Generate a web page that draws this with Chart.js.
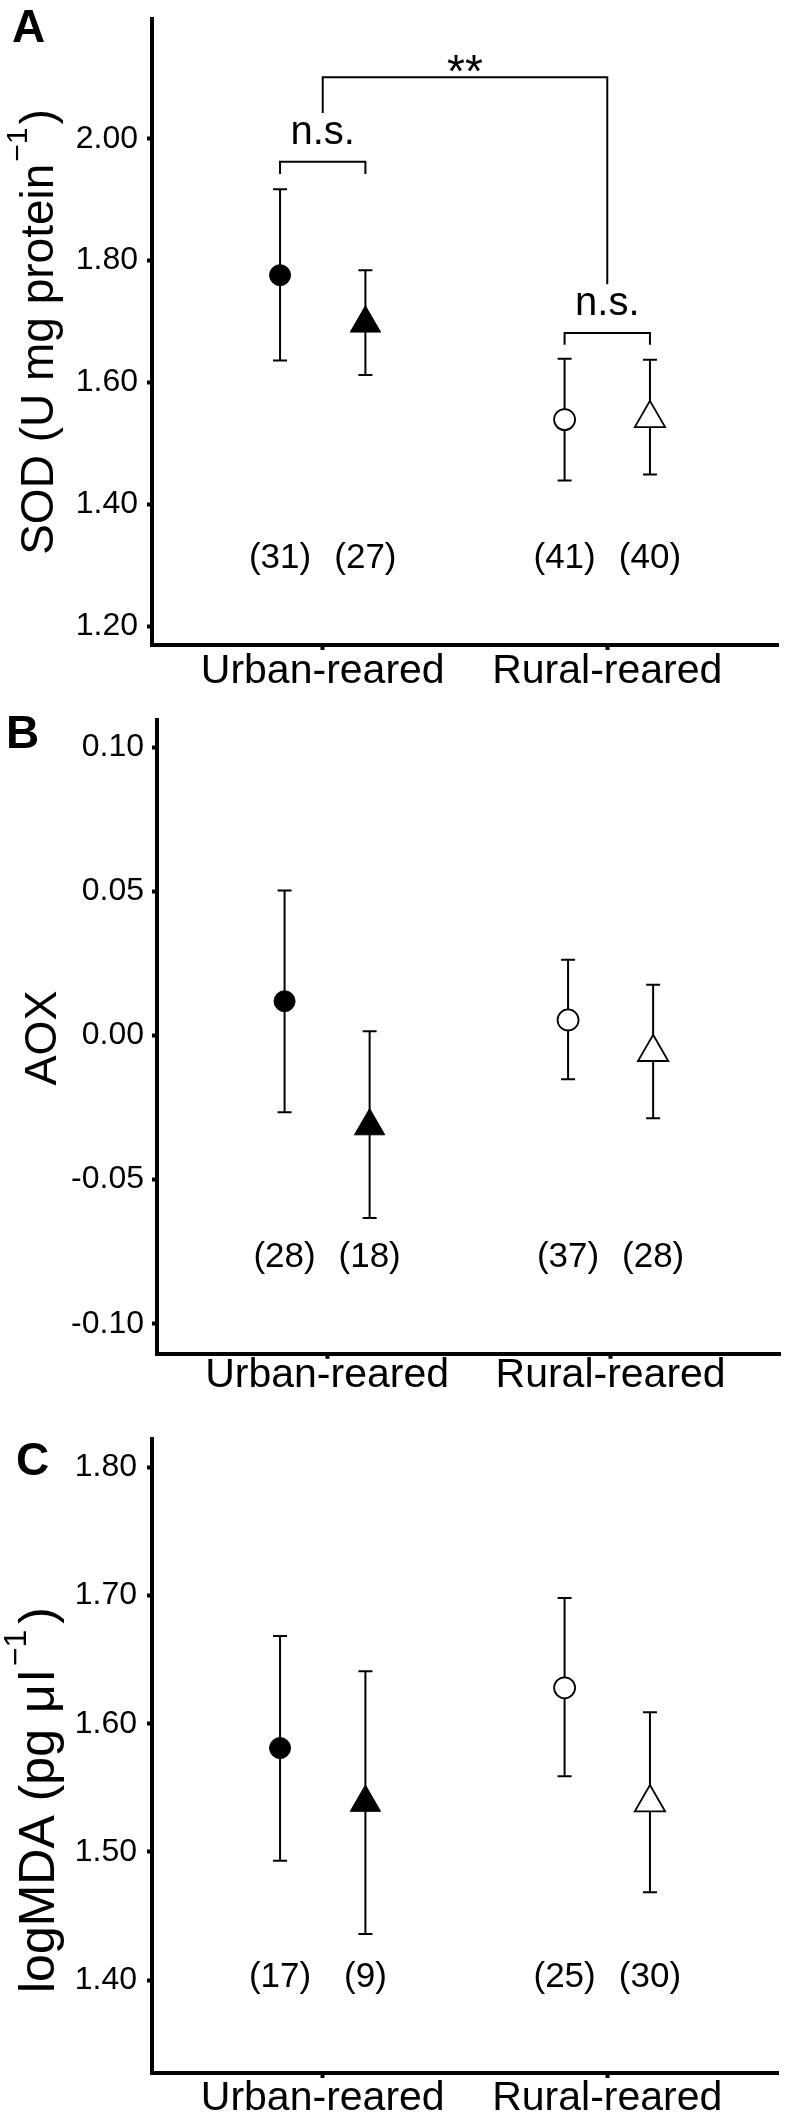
<!DOCTYPE html>
<html>
<head>
<meta charset="utf-8">
<script src="https://cdn.jsdelivr.net/npm/chart.js@4.4.1/dist/chart.umd.min.js"></script>
<style>
body { margin: 0; background: #fff; width: 800px; height: 2121px; position: relative; overflow: hidden; }
canvas { position: absolute; left: 0; }
</style>
</head>
<body>
<canvas id="chartA" width="800" height="700" style="top:0px;width:800px;height:700px"></canvas>
<canvas id="chartB" width="800" height="700" style="top:700px;width:800px;height:700px"></canvas>
<canvas id="chartC" width="800" height="721" style="top:1400px;width:800px;height:721px"></canvas>
<script>
// groups on the x axis
var groups = ['Urban-reared', 'Rural-reared'];
// order of the four points in each panel: circle / triangle in each group
var pointGroup = [0, 0, 1, 1];
var pointSide = [-1, 1, -1, 1];

// A - SOD
var sodMean = [1.776, 1.697, 1.539, 1.541];
var sodLow  = [1.636, 1.612, 1.439, 1.449];
var sodHigh = [1.917, 1.784, 1.639, 1.637];
var sodN    = ['(31)', '(27)', '(41)', '(40)'];
var sodNLevel = 1.312;
var sodTicks = [1.2, 1.4, 1.6, 1.8, 2.0];

// significance brackets in A (from point / group x to x)
var bracketFrom  = [0.85, 1.85, 1];
var bracketTo    = [1.15, 2.15, 2];
var bracketTop   = [1.962, 1.681, 2.101];
var bracketLeftEnd  = [1.942, 1.662, 2.042];
var bracketRightEnd = [1.942, 1.662, 1.761];
var bracketText  = ['n.s.', 'n.s.', '**'];

// B - AOX
var aoxMean = [0.0119, -0.0314, 0.0054, -0.0058];
var aoxLow  = [-0.0266, -0.0633, -0.0152, -0.0287];
var aoxHigh = [0.0503, 0.0015, 0.0263, 0.0176];
var aoxN    = ['(28)', '(18)', '(37)', '(28)'];
var aoxNLevel = -0.077;
var aoxTicks = [-0.10, -0.05, 0.00, 0.05, 0.10];

// C - logMDA
var mdaMean = [1.581, 1.5385, 1.628, 1.5385];
var mdaLow  = [1.493, 1.436, 1.559, 1.4685];
var mdaHigh = [1.6685, 1.641, 1.698, 1.609];
var mdaN    = ['(17)', '(9)', '(25)', '(30)'];
var mdaNLevel = 1.402;
var mdaTicks = [1.4, 1.5, 1.6, 1.7, 1.8];

var FONT = '"Liberation Sans", Arial, Helvetica, sans-serif';
var DODGE = 0.15;

function px(i) {
    return pointGroup[i] + 1 + pointSide[i] * DODGE;
}

function buildDatasets(mean, low, high, withBrackets) {
    var ds = [];
    ds.push({
        data: mean.map(function (v, i) { return { x: px(i), y: v }; }),
        pointStyle: ['circle', 'triangle', 'circle', 'triangle'],
        pointRadius: [10.5, 17.5, 10.5, 17.5],
        backgroundColor: ['#000', '#000', '#fff', '#fff'],
        borderColor: '#000',
        pointBorderWidth: [1, 1, 1.8, 1.8],
        showLine: false,
        order: 0
    });
    for (var i = 0; i < mean.length; i++) {
        ds.push({
            data: [{ x: px(i), y: low[i] }, { x: px(i), y: high[i] }],
            showLine: true,
            borderColor: '#000',
            borderWidth: 2,
            pointStyle: 'line',
            pointRadius: 7,
            pointBorderWidth: 2,
            pointBorderColor: '#000',
            order: 1
        });
    }
    if (withBrackets) {
        for (var b = 0; b < bracketTop.length; b++) {
            ds.push({
                data: [
                    { x: bracketFrom[b], y: bracketLeftEnd[b] },
                    { x: bracketFrom[b], y: bracketTop[b] },
                    { x: bracketTo[b], y: bracketTop[b] },
                    { x: bracketTo[b], y: bracketRightEnd[b] }
                ],
                showLine: true,
                borderColor: '#000',
                borderWidth: 2,
                pointRadius: 0,
                order: 1
            });
        }
    }
    return ds;
}

// axis title with a superscript part, rotated
function drawTitle(ctx, parts, bx, cy) {
    var total = 0;
    parts.forEach(function (p) {
        ctx.font = p.size + 'px ' + FONT;
        p.w = ctx.measureText(p.t).width;
        total += p.w + (p.gap || 0);
    });
    ctx.save();
    ctx.translate(bx, cy);
    ctx.rotate(-Math.PI / 2);
    ctx.textAlign = 'left';
    ctx.textBaseline = 'alphabetic';
    ctx.fillStyle = '#000';
    var pos = -total / 2;
    parts.forEach(function (p) {
        pos += p.gap || 0;
        ctx.font = p.size + 'px ' + FONT;
        ctx.fillText(p.t, pos, -(p.rise || 0));
        pos += p.w;
    });
    ctx.restore();
}

function notesPlugin(p) {
    return {
        id: 'notes' + p.letter,
        afterDraw: function (chart) {
            var ctx = chart.ctx, xs = chart.scales.x, ys = chart.scales.y;
            ctx.save();
            ctx.fillStyle = '#000';
            // sample sizes
            ctx.font = '35px ' + FONT;
            ctx.textAlign = 'center';
            ctx.textBaseline = 'middle';
            p.n.forEach(function (t, i) {
                ctx.fillText(t, xs.getPixelForValue(px(i)), ys.getPixelForValue(p.nLevel));
            });
            // bracket labels
            if (p.brackets) {
                var lift = { 'n.s.': 18, '**': -10 };
                ctx.textBaseline = 'alphabetic';
                for (var b = 0; b < bracketText.length; b++) {
                    ctx.font = (bracketText[b] == '**' ? '46px ' : '40px ') + FONT;
                    var cx = (xs.getPixelForValue(bracketFrom[b]) + xs.getPixelForValue(bracketTo[b])) / 2;
                    ctx.fillText(bracketText[b], cx, ys.getPixelForValue(bracketTop[b]) - lift[bracketText[b]]);
                }
            }
            // panel letter
            ctx.font = 'bold 46px ' + FONT;
            ctx.textAlign = 'left';
            ctx.textBaseline = 'alphabetic';
            ctx.fillText(p.letter, p.letterX, p.letterY);
            ctx.restore();
            drawTitle(ctx, p.title, p.titleX, p.titleY);
        }
    };
}

function displayPanel(p) {
    var ctx = document.getElementById(p.canvas);
    var h = ctx.height;
    return new Chart(ctx, {
        type: 'scatter',
        data: { datasets: buildDatasets(p.mean, p.low, p.high, p.brackets) },
        options: {
            responsive: false,
            animation: false,
            layout: { padding: { top: p.top, right: 800 - p.right, left: 0, bottom: 0 } },
            plugins: { legend: { display: false }, tooltip: { enabled: false } },
            scales: {
                x: {
                    type: 'linear',
                    min: 0.4,
                    max: 2.6,
                    afterBuildTicks: function (s) { s.ticks = [{ value: 1 }, { value: 2 }]; },
                    afterFit: function (s) { s.height = h - p.bottom; s.paddingLeft = 0; s.paddingRight = 0; },
                    ticks: {
                        callback: function (v) { return groups[Math.round(v) - 1]; },
                        font: { family: FONT, size: 41, lineHeight: 1 },
                        color: '#000',
                        padding: p.xPad,
                        maxRotation: 0,
                        autoSkip: false
                    },
                    grid: { drawOnChartArea: false, color: '#000', tickLength: 5, tickWidth: 4 },
                    border: { color: '#000', width: 4 }
                },
                y: {
                    min: p.min,
                    max: p.max,
                    afterBuildTicks: function (s) { s.ticks = p.ticks.map(function (v) { return { value: v }; }); },
                    afterFit: function (s) { s.width = p.left; s.paddingTop = 0; s.paddingBottom = 0; },
                    ticks: {
                        callback: function (v) { return v.toFixed(2); },
                        font: { family: FONT, size: 32, lineHeight: 1 },
                        color: '#000',
                        padding: p.yPad
                    },
                    grid: { drawOnChartArea: false, color: '#000', tickLength: 5, tickWidth: 4 },
                    border: { color: '#000', width: 4 }
                }
            }
        },
        plugins: [notesPlugin(p)]
    });
}

displayPanel({
    canvas: 'chartA', letter: 'A', letterX: 12, letterY: 42,
    mean: sodMean, low: sodLow, high: sodHigh, n: sodN, nLevel: sodNLevel, ticks: sodTicks,
    min: 1.169, max: 2.196, brackets: true,
    left: 152, right: 778, top: 12, bottom: 645, xPad: 1, yPad: 9,
    title: [{ t: 'SOD (U mg protein', size: 46 }, { t: '\u22121', size: 30, rise: 26, gap: 2 }, { t: ')', size: 46, gap: 3 }],
    titleX: 53, titleY: 332
});

displayPanel({
    canvas: 'chartB', letter: 'B', letterX: 6, letterY: 48,
    mean: aoxMean, low: aoxLow, high: aoxHigh, n: aoxN, nLevel: aoxNLevel, ticks: aoxTicks,
    min: -0.1104, max: 0.1093, brackets: false,
    left: 157, right: 791, top: 20.4, bottom: 653.8, xPad: -4, yPad: 8,
    title: [{ t: 'AOX', size: 45 }],
    titleX: 56, titleY: 338
});

displayPanel({
    canvas: 'chartC', letter: 'C', letterX: 16, letterY: 75,
    mean: mdaMean, low: mdaLow, high: mdaHigh, n: mdaN, nLevel: mdaNLevel, ticks: mdaTicks,
    min: 1.3275, max: 1.8225, brackets: false,
    left: 152, right: 778, top: 38.5, bottom: 673, xPad: 0, yPad: 10,
    title: [{ t: 'logMDA (pg', size: 50 }, { t: '\u03bc', size: 50, gap: 16 },
            { t: 'l', size: 50, gap: 3 }, { t: '\u22121', size: 32, rise: 28, gap: 4 }, { t: ')', size: 50, gap: 6 }],
    titleX: 54, titleY: 400
});
</script>
</body>
</html>
